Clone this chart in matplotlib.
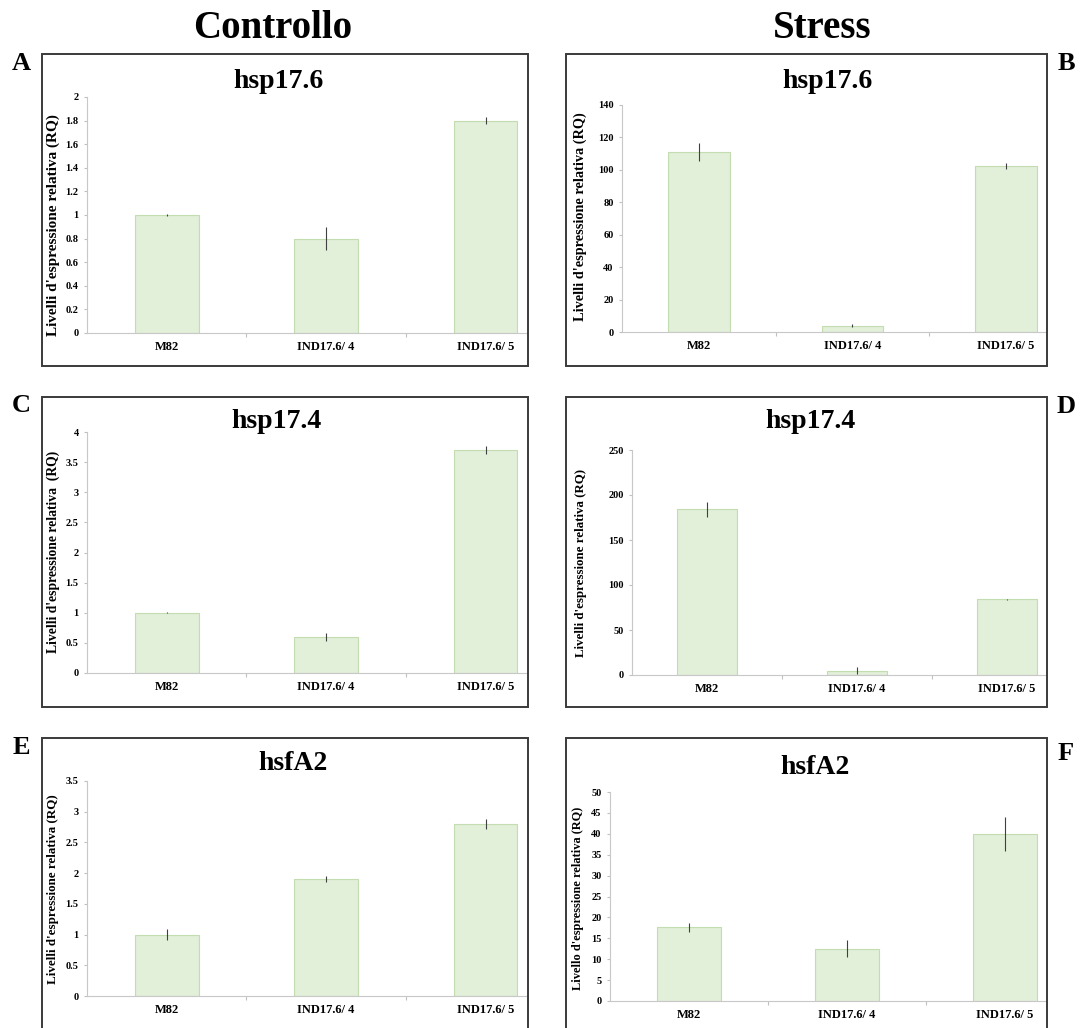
import numpy as np
import matplotlib

matplotlib.use("Agg")
import matplotlib.pyplot as plt
from matplotlib.patches import Rectangle
from matplotlib.ticker import FuncFormatter

plt.rcParams["font.family"] = "Liberation Serif"
plt.rcParams["font.weight"] = "bold"

W, H = 1084, 1028

# ---- data ----
CATEGORIES = ["M82", "IND17.6/ 4", "IND17.6/ 5"]

HSP176_CTRL = [1.0, 0.8, 1.8]
HSP176_CTRL_ERR = [0.01, 0.1, 0.03]
HSP176_STRESS = [111, 4, 102.5]
HSP176_STRESS_ERR = [5.5, 1.0, 2.0]

HSP174_CTRL = [1.0, 0.6, 3.7]
HSP174_CTRL_ERR = [0.01, 0.07, 0.07]
HSP174_STRESS = [184, 5, 84]
HSP174_STRESS_ERR = [8.0, 4.0, 0.5]

HSFA2_CTRL = [1.0, 1.9, 2.8]
HSFA2_CTRL_ERR = [0.09, 0.05, 0.08]
HSFA2_STRESS = [17.6, 12.5, 40]
HSFA2_STRESS_ERR = [1.0, 2.0, 4.0]

YLABEL = "Livelli d'espressione relativa (RQ)"

# ---- layout, in pixels of the 1084x1028 image ----
# frame box, axes (left, y of zero, y of top, right), y max/step,
# title pos, ylabel (text, x, y, size), panel letter pos
panels = [
    dict(vals=HSP176_CTRL, err=HSP176_CTRL_ERR, title="hsp17.6", letter="A",
         frame=(42, 54, 528, 366), ax=(87, 333, 97, 527), ymax=2, ystep=0.2,
         tpos=(278, 82), ylab=(YLABEL, 53, 225, 11), lpos=(21, 63)),
    dict(vals=HSP176_STRESS, err=HSP176_STRESS_ERR, title="hsp17.6", letter="B",
         frame=(566, 54, 1047, 366), ax=(622, 332, 105, 1046), ymax=140, ystep=20,
         tpos=(827, 82), ylab=(YLABEL, 580, 217, 10.3), lpos=(1066, 63)),
    dict(vals=HSP174_CTRL, err=HSP174_CTRL_ERR, title="hsp17.4", letter="C",
         frame=(42, 397, 528, 707), ax=(87, 673, 432, 527), ymax=4, ystep=0.5,
         tpos=(276, 421), ylab=("Livelli d'espressione relativa  (RQ)", 53, 552, 9.8),
         lpos=(21, 406)),
    dict(vals=HSP174_STRESS, err=HSP174_STRESS_ERR, title="hsp17.4", letter="D",
         frame=(566, 397, 1047, 707), ax=(632, 675, 450, 1046), ymax=250, ystep=50,
         tpos=(810, 421), ylab=(YLABEL, 581, 563, 9.3), lpos=(1066, 407)),
    dict(vals=HSFA2_CTRL, err=HSFA2_CTRL_ERR, title="hsfA2", letter="E",
         frame=(42, 738, 528, 1040), ax=(87, 996, 781, 527), ymax=3.5, ystep=0.5,
         tpos=(293, 764), ylab=(YLABEL, 53, 889, 9.4), lpos=(21, 747)),
    dict(vals=HSFA2_STRESS, err=HSFA2_STRESS_ERR, title="hsfA2", letter="F",
         frame=(566, 738, 1047, 1040), ax=(610, 1001, 792, 1046), ymax=50, ystep=5,
         tpos=(815, 767), ylab=("Livello d'espressione relativa (RQ)", 578, 898, 8.9),
         lpos=(1066, 753)),
]

fig = plt.figure(figsize=(W / 100, H / 100), dpi=100)


def fx(x):
    return x / W


def fy(y):
    return 1 - y / H


fmt = FuncFormatter(lambda v, pos: f"{v:g}")
x = np.arange(len(CATEGORIES))

for p in panels:
    left, y0, ytop, right = p["ax"]
    ax = fig.add_axes([fx(left), fy(y0), (right - left) / W, (y0 - ytop) / H])
    ax.bar(x, p["vals"], width=0.4, color="#e2efd9", edgecolor="#c3dcb0",
           linewidth=0.8, zorder=2)
    ax.errorbar(x, p["vals"], yerr=p["err"], fmt="none", ecolor="#404040",
                elinewidth=0.8, capsize=0, zorder=3)

    # the chart is cut by the frame just after the last bar
    ax.set_xlim(-0.5, 2.26)
    ax.set_ylim(0, p["ymax"])
    ax.set_yticks(np.arange(0, p["ymax"] + p["ystep"] / 2, p["ystep"]))
    ax.yaxis.set_major_formatter(fmt)
    ax.set_xticks([0.5, 1.5])
    ax.set_xticklabels([])
    ax.set_xticks(x, minor=True)
    ax.set_xticklabels(CATEGORIES, minor=True, fontsize=9, fontweight="bold")
    ax.tick_params(axis="x", which="minor", length=0, pad=6)
    ax.tick_params(axis="x", which="major", length=3, color="#c0c0c0", direction="out")
    ax.tick_params(axis="y", length=2, color="#c0c0c0", labelsize=7.5, pad=4)
    for lab in ax.get_yticklabels():
        lab.set_fontweight("bold")
    for side in ["top", "right"]:
        ax.spines[side].set_visible(False)
    for side in ["left", "bottom"]:
        ax.spines[side].set_color("#c8c8c8")
        ax.spines[side].set_linewidth(0.8)
    ax.patch.set_alpha(0)

    txt, lx, ly, ls = p["ylab"]
    fig.text(fx(lx), fy(ly), txt, rotation=90, ha="center", va="center",
             fontsize=ls, fontweight="bold")
    fig.text(fx(p["tpos"][0]), fy(p["tpos"][1]), p["title"], ha="center",
             va="center", fontsize=20, fontweight="bold")
    fig.text(fx(p["lpos"][0]), fy(p["lpos"][1]), p["letter"], ha="center",
             va="center", fontsize=19, fontweight="bold")

    x0, y0f, x1, y1f = p["frame"]
    fig.patches.append(Rectangle((fx(x0), fy(y1f)), (x1 - x0) / W, (y1f - y0f) / H,
                                 transform=fig.transFigure, fill=False,
                                 edgecolor="#3a3a3a", linewidth=1.4, zorder=5))

fig.text(fx(273), fy(29), "Controllo", ha="center", va="center",
         fontsize=28, fontweight="bold")
fig.text(fx(822), fy(29), "Stress", ha="center", va="center",
         fontsize=28, fontweight="bold")

fig.savefig("out.png", dpi=100)
